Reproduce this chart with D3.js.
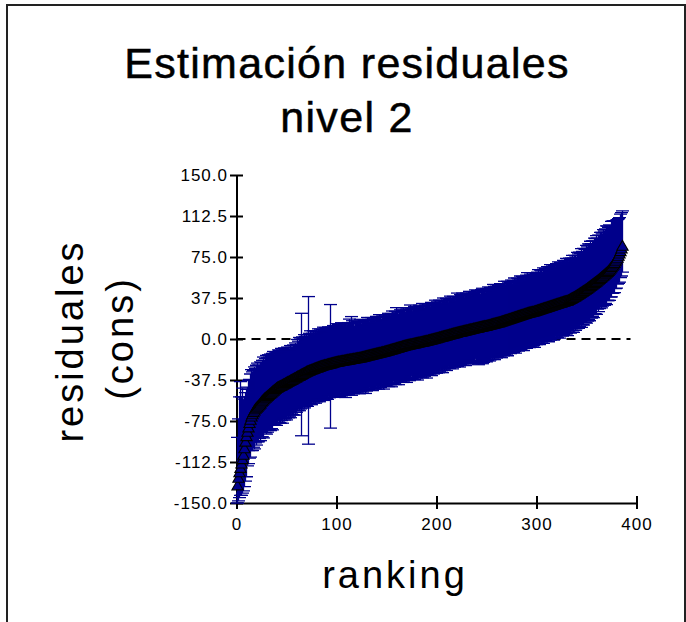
<!DOCTYPE html>
<html>
<head>
<meta charset="utf-8">
<script src="https://cdn.jsdelivr.net/npm/d3@7"></script>
<style>
  body { margin: 0; background: #fff; }
  svg { display: block; }
</style>
</head>
<body>
<div id="chart"></div>
<script>
// residual estimate per rank (1..386)
const est = [
  -135,-128,-123,-119,-115,-111,-107,-101,-95,-90,-86,-82,-78,-75,-72,-70,-68,-66.5,-65,-64,
  -63,-62,-61,-60,-58.5,-57.5,-56.5,-55.5,-54.8,-54,-53.2,-52.4,-51.5,-50.8,-50,-49.1,-48.4,-47.6,-46.9,-46,
  -45.4,-45,-44.4,-44,-43.6,-43,-42.5,-42.1,-41.5,-41,-40.4,-40,-39.6,-39,-38.5,-38.1,-37.5,-37,-36.6,-36,
  -35.4,-35,-34.6,-34,-33.5,-33.1,-32.5,-32,-31.6,-31,-30.6,-30.2,-29.8,-29.5,-29.1,-28.8,-28.5,-28.1,-27.7,-27.4,
  -27.1,-26.7,-26.4,-26,-25.7,-25.4,-25.2,-24.9,-24.7,-24.5,-24.2,-23.9,-23.7,-23.5,-23.2,-23,-22.7,-22.4,-22.2,-22,
  -21.8,-21.6,-21.5,-21.3,-21.1,-21,-20.8,-20.6,-20.5,-20.3,-20.1,-20,-19.8,-19.6,-19.5,-19.3,-19.1,-19,-18.8,-18.6,
  -18.5,-18.3,-18.1,-18,-17.8,-17.5,-17.3,-17.1,-16.8,-16.6,-16.3,-16.1,-15.9,-15.7,-15.4,-15.2,-15,-14.8,-14.6,-14.3,
  -14.1,-13.9,-13.7,-13.5,-13.2,-13,-12.8,-12.5,-12.3,-12,-11.7,-11.5,-11.2,-10.9,-10.7,-10.4,-10.1,-9.9,-9.6,-9.3,
  -9.1,-8.8,-8.5,-8.3,-8,-7.7,-7.5,-7.2,-6.9,-6.7,-6.5,-6.3,-6.1,-5.9,-5.7,-5.5,-5.3,-5.1,-4.9,-4.7,
  -4.5,-4.3,-4.1,-3.9,-3.7,-3.5,-3.3,-3.1,-2.9,-2.7,-2.5,-2.2,-2,-1.8,-1.5,-1.3,-1,-0.8,-0.5,-0.3,
  0,0.2,0.5,0.7,1,1.2,1.5,1.7,2,2.2,2.5,2.7,3,3.2,3.5,3.7,4,4.2,4.5,4.7,
  5,5.2,5.4,5.6,5.8,6,6.3,6.5,6.7,6.9,7.1,7.4,7.6,7.8,8,8.2,8.5,8.7,8.9,9.1,
  9.3,9.5,9.8,10,10.2,10.4,10.6,10.8,10.9,11.1,11.4,11.6,11.9,12.1,12.4,12.6,12.9,13.1,13.4,13.6,
  13.9,14.1,14.3,14.6,14.9,15.2,15.5,15.8,16.1,16.4,16.7,17,17.3,17.6,17.9,18.2,18.5,18.8,19.1,19.4,
  19.7,20,20.3,20.6,20.9,21.2,21.5,21.8,22.1,22.4,22.7,23,23.2,23.4,23.6,23.8,24,24.3,24.6,24.9,
  25.2,25.5,25.8,26.1,26.4,26.7,27,27.3,27.6,27.9,28.2,28.5,28.8,29.1,29.4,29.7,30,30.3,30.6,30.9,
  31.2,31.5,31.8,32.1,32.4,32.7,33,33.3,33.6,33.8,34,34.5,35,35.5,36,36.5,37,37.5,38,38.6,
  39.2,39.8,40.4,41,41.6,42.2,42.8,43.4,44,44.6,45.3,46,46.7,47.4,48.1,48.8,49.5,50.2,50.9,51.6,
  52.3,53,53.8,54.6,55.4,56.2,57,57.8,58.6,59.4,60.2,61.2,62.3,63.4,64.6,65.8,67.1,68.5,70,71.6,
  73.2,75,77,79.2,81.6,84.2
];

// length of the error bar above the estimate
const errUp = [
  45,55,70,80,62,66,52,48,46,44,42,44,41,43,44,40,39,41,38,40,
  41,38,37,39,37,38,40,36,37,39,36,38,35,37,34,36,37,33,35,34,
  33,35,34,32,35,33,31,34,32,31,33,32,30,33,31,30,32,31,33,31,
  35,33,36,34,57,35,33,36,34,35,33,69,35,37,33,34,36,32,35,33,
  34,36,33,35,32,34,36,33,35,34,32,35,33,55,34,32,35,33,34,36,
  33,35,32,34,36,33,31,35,34,32,33,35,38,34,40,36,33,31,34,35,
  33,32,34,36,31,33,35,34,32,33,36,34,31,33,35,32,34,33,31,35,
  34,32,36,33,31,34,35,32,33,34,32,35,33,31,34,36,33,32,35,38,
  34,31,33,35,32,34,36,33,31,34,35,32,33,37,34,31,33,35,32,34,
  33,31,35,34,32,36,33,31,34,35,32,33,34,31,35,33,32,34,36,33,
  34,32,35,33,31,34,36,33,32,35,34,31,33,36,34,32,35,33,31,34,
  37,33,32,35,34,36,33,31,34,35,32,33,36,34,32,35,33,34,36,32,
  35,33,34,31,35,36,33,34,32,35,34,36,33,35,32,34,37,35,33,36,
  34,35,33,36,34,32,35,37,33,34,36,35,33,34,36,32,35,37,34,33,
  36,35,33,37,34,36,35,33,34,36,38,35,34,36,33,37,35,34,36,35,
  36,38,35,37,36,34,38,36,37,35,38,36,37,39,36,38,35,37,36,38,
  37,39,36,38,37,36,39,38,37,40,38,36,39,37,38,40,37,39,38,36,
  40,38,39,37,41,38,40,39,38,41,39,41,40,42,39,41,40,42,41,43,
  40,42,41,43,42,40,43,41,42,44,43,41,42,40,43,42,41,39,38,37,
  36,35,34,35,34,33
];

// length of the error bar below the estimate
const errDown = [
  15,20,22,24,28,30,32,34,35,36,30,32,31,33,30,32,31,34,30,33,
  31,32,30,33,31,32,34,30,31,33,32,30,31,33,32,34,30,31,32,33,
  31,30,32,33,31,34,30,32,31,33,30,32,31,33,30,31,32,30,33,31,
  30,29,31,30,55,30,28,31,29,30,31,66,29,30,31,28,30,29,31,30,
  28,30,31,29,30,28,31,30,29,30,31,28,30,58,29,30,28,31,30,29,
  29,31,30,28,32,30,29,31,33,30,28,31,29,30,32,29,31,30,28,31,
  30,29,32,30,28,31,29,30,33,31,29,30,28,31,30,32,29,30,31,28,
  30,32,29,31,30,28,33,30,29,31,30,32,29,31,33,30,28,31,32,30,
  29,33,31,30,28,32,31,29,30,33,31,29,32,30,28,31,30,32,29,31,
  33,30,28,31,29,32,30,31,29,33,30,28,31,30,32,29,31,30,28,31,
  29,31,30,28,30,32,29,30,28,31,29,27,30,28,29,31,28,30,29,27,
  30,28,31,29,28,30,27,29,31,28,30,29,27,28,30,29,28,31,27,29,
  31,33,30,32,31,33,32,30,31,32,31,30,32,31,29,31,30,32,29,31,
  30,29,31,30,32,29,31,30,29,31,32,30,29,31,30,29,31,30,32,29,
  30,31,29,30,31,29,32,30,29,31,30,29,31,30,29,31,30,32,29,30,
  30,29,31,28,30,29,31,28,29,30,28,31,29,30,28,29,31,30,28,29,
  30,28,31,29,28,30,29,28,30,29,31,28,29,30,28,29,31,28,30,29,
  28,30,29,28,31,29,30,28,29,30,29,28,30,27,29,28,30,27,28,29,
  25,28,26,25,27,26,25,27,26,28,25,26,27,25,26,24,25,26,24,25,
  23,24,25,23,24,23
];

const xTicks = [0, 100, 200, 300, 400];
const yTicks = [-150, -112.5, -75, -37.5, 0, 37.5, 75, 112.5, 150];
const titleLines = ["Estimación residuales", "nivel 2"];
const yTitleLines = ["residuales", "(cons)"];
const xTitle = "ranking";

const W = 686, H = 622;
const blue = "#00008c";
const font = "'Liberation Sans', Arial, sans-serif";

const svg = d3.select("#chart").append("svg")
    .attr("width", W)
    .attr("height", H);

// outer frame
svg.append("rect")
    .attr("x", 7).attr("y", 5)
    .attr("width", 678).attr("height", 640)
    .attr("fill", "none")
    .attr("stroke", "#222")
    .attr("stroke-width", 2);

const x = d3.scaleLinear().domain([0, 400]).range([236.5, 636.5]);
const y = d3.scaleLinear().domain([-150, 150]).range([503, 175]);

const data = est.map((v, i) => ({rank: i + 1, value: v, up: errUp[i], down: errDown[i]}));

// title
svg.append("g").selectAll("text").data(titleLines).enter().append("text")
    .attr("x", 347)
    .attr("y", (d, i) => 78 + i * 54)
    .attr("text-anchor", "middle")
    .attr("font-family", font)
    .attr("font-size", 43)
    .attr("letter-spacing", 1.3)
    .attr("stroke", "#000")
    .attr("stroke-width", 0.5)
    .text(d => d);

// axis titles
svg.append("g").selectAll("text").data(yTitleLines).enter().append("text")
    .attr("transform", (d, i) => `translate(${83 + i * 50},${341 - i * 3}) rotate(-90)`)
    .attr("text-anchor", "middle")
    .attr("font-family", font)
    .attr("font-size", 38)
    .attr("letter-spacing", 3)
    .text(d => d);

svg.append("text")
    .attr("x", 395).attr("y", 588)
    .attr("text-anchor", "middle")
    .attr("font-family", font)
    .attr("font-size", 38)
    .attr("letter-spacing", 3)
    .text(xTitle);

// axes
const gy = svg.append("g")
    .attr("transform", "translate(236.5,0)")
    .call(d3.axisLeft(y).tickValues(yTicks).tickFormat(d => d.toFixed(1)).tickSize(6.5).tickSizeOuter(0).tickPadding(2));
gy.selectAll(".tick line").attr("x1", 6.5).attr("stroke-width", 2);

const gx = svg.append("g")
    .attr("transform", "translate(0,503)")
    .call(d3.axisBottom(x).tickValues(xTicks).tickSize(6).tickSizeOuter(0).tickPadding(9));
gx.selectAll(".tick line").attr("y1", -7).attr("stroke-width", 2);

[gx, gy].forEach(g => {
    g.select(".domain").attr("stroke-width", 2);
    g.selectAll("text")
        .attr("font-family", font)
        .attr("font-size", 17)
        .attr("letter-spacing", 1)
        .attr("fill", "#000");
});

// zero line
svg.append("line")
    .attr("x1", x(0)).attr("x2", x(394))
    .attr("y1", y(0)).attr("y2", y(0))
    .attr("stroke", "#000")
    .attr("stroke-width", 2)
    .attr("stroke-dasharray", "9,6");

svg.append("clipPath").attr("id", "plot-clip")
    .append("rect")
    .attr("x", x(0) - 10).attr("y", y(150))
    .attr("width", x(400) - x(0) + 20).attr("height", y(-150) - y(150) + 1);

const plot = svg.append("g").attr("clip-path", "url(#plot-clip)");

// error bars
const bars = plot.append("g")
    .attr("stroke", blue)
    .attr("stroke-width", 1.3);

bars.selectAll(".bar").data(data).enter().append("line")
    .attr("x1", d => x(d.rank)).attr("x2", d => x(d.rank))
    .attr("y1", d => y(d.value + d.up))
    .attr("y2", d => y(d.value - d.down));

bars.selectAll(".cap-top").data(data).enter().append("line")
    .attr("x1", d => x(d.rank) - 6.5).attr("x2", d => x(d.rank) + 6.5)
    .attr("y1", d => y(d.value + d.up)).attr("y2", d => y(d.value + d.up));

bars.selectAll(".cap-bottom").data(data).enter().append("line")
    .attr("x1", d => x(d.rank) - 6.5).attr("x2", d => x(d.rank) + 6.5)
    .attr("y1", d => y(d.value - d.down)).attr("y2", d => y(d.value - d.down));

// triangle markers
plot.append("g").selectAll("path").data(data).enter().append("path")
    .attr("d", d3.symbol(d3.symbolTriangle).size(55))
    .attr("transform", d => `translate(${x(d.rank)},${y(d.value)})`)
    .attr("fill", blue)
    .attr("stroke", "#000")
    .attr("stroke-width", 1.1);
</script>
</body>
</html>
